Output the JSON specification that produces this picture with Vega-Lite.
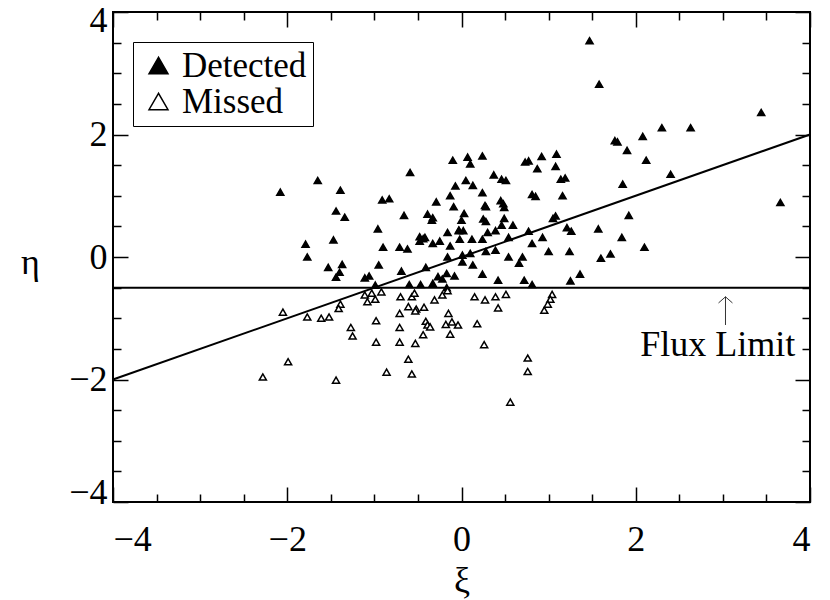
{
  "$schema": "https://vega.github.io/schema/vega-lite/v6.json",
  "autosize": {"type": "none"},
  "width": 697,
  "height": 490,
  "padding": {"left": 113, "top": 12, "right": 20, "bottom": 98},
  "background": "white",
  "config": {
    "view": {"stroke": "black", "strokeWidth": 2},
    "axis": {"domain": false, "grid": false, "tickColor": "black", "tickWidth": 1.5, "labelColor": "black", "titleColor": "black", "labelFont": "Liberation Serif", "titleFont": "Liberation Serif", "labelFontSize": 36, "titleFontSize": 36, "titleFontWeight": "normal"},
    "legend": {"labelFont": "Liberation Serif", "labelFontSize": 35, "labelColor": "black"}
  },
  "datasets": {
    "lines": [
      {"line": "fit", "xi": -4, "eta": -2},
      {"line": "fit", "xi": 4, "eta": 2},
      {"line": "limit", "xi": -4, "eta": -0.5},
      {"line": "limit", "xi": 4, "eta": -0.5}
    ],
    "points": [
      {"status": "Detected", "xi": -2.08, "eta": 1.06},
      {"status": "Detected", "xi": -1.65, "eta": 1.25},
      {"status": "Detected", "xi": -1.39, "eta": 1.09},
      {"status": "Detected", "xi": -1.44, "eta": 0.75},
      {"status": "Detected", "xi": -1.34, "eta": 0.65},
      {"status": "Detected", "xi": -0.59, "eta": 1.38},
      {"status": "Detected", "xi": -0.91, "eta": 0.93},
      {"status": "Detected", "xi": -0.83, "eta": 0.95},
      {"status": "Detected", "xi": -0.96, "eta": 0.46},
      {"status": "Detected", "xi": -1.79, "eta": 0.21},
      {"status": "Detected", "xi": -1.47, "eta": 0.28},
      {"status": "Detected", "xi": -0.9, "eta": 0.16},
      {"status": "Detected", "xi": -0.71, "eta": 0.16},
      {"status": "Detected", "xi": -0.62, "eta": 0.13},
      {"status": "Detected", "xi": -0.66, "eta": 0.68},
      {"status": "Detected", "xi": -0.48, "eta": 0.33},
      {"status": "Detected", "xi": -0.44, "eta": 0.3},
      {"status": "Detected", "xi": -0.39, "eta": 0.7},
      {"status": "Detected", "xi": -0.33, "eta": 0.64},
      {"status": "Detected", "xi": -0.34, "eta": 0.6},
      {"status": "Detected", "xi": -0.29, "eta": 0.9},
      {"status": "Detected", "xi": -0.13, "eta": 1.0},
      {"status": "Detected", "xi": -0.09, "eta": 0.82},
      {"status": "Detected", "xi": -0.1, "eta": 1.58},
      {"status": "Detected", "xi": -0.07, "eta": 1.16},
      {"status": "Detected", "xi": -0.16, "eta": 0.4},
      {"status": "Detected", "xi": -0.25, "eta": 0.26},
      {"status": "Detected", "xi": -0.33, "eta": 0.22},
      {"status": "Detected", "xi": -0.13, "eta": 0.18},
      {"status": "Detected", "xi": -0.03, "eta": 0.44},
      {"status": "Detected", "xi": -1.77, "eta": 0.0},
      {"status": "Detected", "xi": -0.16, "eta": 0.0},
      {"status": "Detected", "xi": 0.07, "eta": 1.63},
      {"status": "Detected", "xi": 0.1, "eta": 1.52},
      {"status": "Detected", "xi": 0.24, "eta": 1.65},
      {"status": "Detected", "xi": 0.73, "eta": 1.55},
      {"status": "Detected", "xi": 0.77, "eta": 1.57},
      {"status": "Detected", "xi": 0.87, "eta": 1.44},
      {"status": "Detected", "xi": 0.05, "eta": 1.25},
      {"status": "Detected", "xi": 0.13, "eta": 1.17},
      {"status": "Detected", "xi": 0.37, "eta": 1.34},
      {"status": "Detected", "xi": 0.46, "eta": 1.27},
      {"status": "Detected", "xi": 0.51, "eta": 1.25},
      {"status": "Detected", "xi": 0.24, "eta": 1.05},
      {"status": "Detected", "xi": 0.27, "eta": 0.84},
      {"status": "Detected", "xi": 0.28, "eta": 0.82},
      {"status": "Detected", "xi": 0.45, "eta": 0.92},
      {"status": "Detected", "xi": 0.48, "eta": 0.87},
      {"status": "Detected", "xi": 0.49, "eta": 0.81},
      {"status": "Detected", "xi": 0.81, "eta": 1.02},
      {"status": "Detected", "xi": 0.03, "eta": 0.71},
      {"status": "Detected", "xi": 0.0, "eta": 0.6},
      {"status": "Detected", "xi": 0.25, "eta": 0.62},
      {"status": "Detected", "xi": 0.28, "eta": 0.58},
      {"status": "Detected", "xi": 0.49, "eta": 0.63},
      {"status": "Detected", "xi": 0.46, "eta": 0.52},
      {"status": "Detected", "xi": 0.59, "eta": 0.52},
      {"status": "Detected", "xi": -0.03, "eta": 0.43},
      {"status": "Detected", "xi": 0.02, "eta": 0.43},
      {"status": "Detected", "xi": 0.3, "eta": 0.4},
      {"status": "Detected", "xi": 0.39, "eta": 0.43},
      {"status": "Detected", "xi": -0.42, "eta": 0.32},
      {"status": "Detected", "xi": -0.48, "eta": 0.26},
      {"status": "Detected", "xi": -0.02, "eta": 0.29},
      {"status": "Detected", "xi": 0.12, "eta": 0.29},
      {"status": "Detected", "xi": 0.24, "eta": 0.29},
      {"status": "Detected", "xi": 0.54, "eta": 0.32},
      {"status": "Detected", "xi": 0.77, "eta": 0.42},
      {"status": "Detected", "xi": 0.81, "eta": 0.22},
      {"status": "Detected", "xi": 0.01, "eta": 0.03},
      {"status": "Detected", "xi": 0.1, "eta": 0.06},
      {"status": "Detected", "xi": 0.28, "eta": 0.09},
      {"status": "Detected", "xi": 0.39, "eta": 0.11},
      {"status": "Detected", "xi": 0.54, "eta": 0.0},
      {"status": "Detected", "xi": 0.7, "eta": 0.0},
      {"status": "Detected", "xi": 1.76, "eta": 1.9},
      {"status": "Detected", "xi": 1.79, "eta": 1.88},
      {"status": "Detected", "xi": 1.9, "eta": 1.74},
      {"status": "Detected", "xi": 2.12, "eta": 1.58},
      {"status": "Detected", "xi": 0.92, "eta": 1.64},
      {"status": "Detected", "xi": 1.09, "eta": 1.68},
      {"status": "Detected", "xi": 1.08, "eta": 1.48},
      {"status": "Detected", "xi": 1.14, "eta": 1.27},
      {"status": "Detected", "xi": 1.19, "eta": 1.29},
      {"status": "Detected", "xi": 1.85, "eta": 1.19},
      {"status": "Detected", "xi": 2.4, "eta": 1.35},
      {"status": "Detected", "xi": 0.85, "eta": 0.99},
      {"status": "Detected", "xi": 1.16, "eta": 1.0},
      {"status": "Detected", "xi": 1.92, "eta": 0.68},
      {"status": "Detected", "xi": 1.05, "eta": 0.63},
      {"status": "Detected", "xi": 1.08, "eta": 0.67},
      {"status": "Detected", "xi": 1.21, "eta": 0.48},
      {"status": "Detected", "xi": 1.26, "eta": 0.42},
      {"status": "Detected", "xi": 0.93, "eta": 0.32},
      {"status": "Detected", "xi": 1.57, "eta": 0.46},
      {"status": "Detected", "xi": 1.84, "eta": 0.32},
      {"status": "Detected", "xi": 2.1, "eta": 0.16},
      {"status": "Detected", "xi": 1.0, "eta": 0.09},
      {"status": "Detected", "xi": 1.24, "eta": 0.09},
      {"status": "Detected", "xi": 1.71, "eta": 0.05},
      {"status": "Detected", "xi": 1.6, "eta": -0.02},
      {"status": "Detected", "xi": 1.47, "eta": 3.53},
      {"status": "Detected", "xi": 1.58, "eta": 2.82},
      {"status": "Detected", "xi": 3.44, "eta": 2.36},
      {"status": "Detected", "xi": 2.3, "eta": 2.11},
      {"status": "Detected", "xi": 2.63, "eta": 2.11},
      {"status": "Detected", "xi": 2.08, "eta": 1.97},
      {"status": "Detected", "xi": 3.66, "eta": 0.89},
      {"status": "Detected", "xi": -1.53, "eta": -0.17},
      {"status": "Detected", "xi": -1.37, "eta": -0.12},
      {"status": "Detected", "xi": -1.4, "eta": -0.25},
      {"status": "Detected", "xi": -1.44, "eta": -0.33},
      {"status": "Detected", "xi": -1.11, "eta": -0.34},
      {"status": "Detected", "xi": -1.06, "eta": -0.31},
      {"status": "Detected", "xi": -0.95, "eta": -0.13},
      {"status": "Detected", "xi": -0.99, "eta": -0.46},
      {"status": "Detected", "xi": -0.69, "eta": -0.23},
      {"status": "Detected", "xi": -0.41, "eta": -0.17},
      {"status": "Detected", "xi": 0.01, "eta": -0.08},
      {"status": "Detected", "xi": 0.13, "eta": -0.13},
      {"status": "Detected", "xi": 0.66, "eta": -0.1},
      {"status": "Detected", "xi": -0.27, "eta": -0.32},
      {"status": "Detected", "xi": -0.22, "eta": -0.36},
      {"status": "Detected", "xi": -0.17, "eta": -0.27},
      {"status": "Detected", "xi": -0.08, "eta": -0.31},
      {"status": "Detected", "xi": 0.24, "eta": -0.28},
      {"status": "Detected", "xi": 0.42, "eta": -0.38},
      {"status": "Detected", "xi": 0.72, "eta": -0.38},
      {"status": "Detected", "xi": 0.81, "eta": -0.45},
      {"status": "Detected", "xi": -0.6, "eta": -0.45},
      {"status": "Detected", "xi": -0.47, "eta": -0.45},
      {"status": "Detected", "xi": -0.33, "eta": -0.43},
      {"status": "Detected", "xi": -0.17, "eta": -0.5},
      {"status": "Detected", "xi": 1.25, "eta": -0.39},
      {"status": "Detected", "xi": 1.36, "eta": -0.28},
      {"status": "Missed", "xi": -2.05, "eta": -0.9},
      {"status": "Missed", "xi": -1.77, "eta": -0.98},
      {"status": "Missed", "xi": -1.61, "eta": -1.0},
      {"status": "Missed", "xi": -1.52, "eta": -0.98},
      {"status": "Missed", "xi": -1.39, "eta": -0.77},
      {"status": "Missed", "xi": -1.41, "eta": -0.84},
      {"status": "Missed", "xi": -1.11, "eta": -0.62},
      {"status": "Missed", "xi": -1.03, "eta": -0.59},
      {"status": "Missed", "xi": -1.08, "eta": -0.73},
      {"status": "Missed", "xi": -0.99, "eta": -0.69},
      {"status": "Missed", "xi": -0.92, "eta": -0.57},
      {"status": "Missed", "xi": -1.27, "eta": -1.15},
      {"status": "Missed", "xi": -1.25, "eta": -1.29},
      {"status": "Missed", "xi": -0.98, "eta": -1.04},
      {"status": "Missed", "xi": -0.98, "eta": -1.39},
      {"status": "Missed", "xi": -1.99, "eta": -1.71},
      {"status": "Missed", "xi": -2.28, "eta": -1.96},
      {"status": "Missed", "xi": -1.44, "eta": -2.01},
      {"status": "Missed", "xi": -0.86, "eta": -1.88},
      {"status": "Missed", "xi": -0.7, "eta": -0.65},
      {"status": "Missed", "xi": -0.57, "eta": -0.65},
      {"status": "Missed", "xi": -0.54, "eta": -0.59},
      {"status": "Missed", "xi": -0.61, "eta": -0.81},
      {"status": "Missed", "xi": -0.52, "eta": -0.85},
      {"status": "Missed", "xi": -0.53, "eta": -0.88},
      {"status": "Missed", "xi": -0.43, "eta": -0.82},
      {"status": "Missed", "xi": -0.71, "eta": -0.92},
      {"status": "Missed", "xi": -0.31, "eta": -0.7},
      {"status": "Missed", "xi": -0.22, "eta": -0.62},
      {"status": "Missed", "xi": -0.16, "eta": -0.55},
      {"status": "Missed", "xi": -0.41, "eta": -1.05},
      {"status": "Missed", "xi": -0.39, "eta": -1.11},
      {"status": "Missed", "xi": -0.36, "eta": -1.14},
      {"status": "Missed", "xi": -0.15, "eta": -0.92},
      {"status": "Missed", "xi": -0.18, "eta": -1.1},
      {"status": "Missed", "xi": -0.11, "eta": -1.06},
      {"status": "Missed", "xi": -0.04, "eta": -1.11},
      {"status": "Missed", "xi": -0.71, "eta": -1.15},
      {"status": "Missed", "xi": -0.44, "eta": -1.27},
      {"status": "Missed", "xi": -0.13, "eta": -1.26},
      {"status": "Missed", "xi": -0.71, "eta": -1.39},
      {"status": "Missed", "xi": -0.53, "eta": -1.41},
      {"status": "Missed", "xi": -0.61, "eta": -1.67},
      {"status": "Missed", "xi": -0.57, "eta": -1.91},
      {"status": "Missed", "xi": 0.15, "eta": -0.65},
      {"status": "Missed", "xi": 0.27, "eta": -0.7},
      {"status": "Missed", "xi": 0.39, "eta": -0.65},
      {"status": "Missed", "xi": 0.51, "eta": -0.61},
      {"status": "Missed", "xi": 0.42, "eta": -0.83},
      {"status": "Missed", "xi": 0.18, "eta": -1.09},
      {"status": "Missed", "xi": 0.26, "eta": -1.43},
      {"status": "Missed", "xi": 0.76, "eta": -1.65},
      {"status": "Missed", "xi": 0.76, "eta": -1.87},
      {"status": "Missed", "xi": 0.56, "eta": -2.37},
      {"status": "Missed", "xi": 1.04, "eta": -0.61},
      {"status": "Missed", "xi": 1.02, "eta": -0.69},
      {"status": "Missed", "xi": 0.99, "eta": -0.77},
      {"status": "Missed", "xi": 0.95, "eta": -0.87}
    ],
    "note": [{"xi": 2.94, "eta": -1.62, "label": "Flux Limit"}],
    "shaft": [{"xi": 3.03, "eta": -1.11, "xi2": 3.03, "eta2": -0.65}],
    "head": [
      {"xi": 3.03, "eta": -0.65, "xi2": 2.95, "eta2": -0.75},
      {"xi": 3.03, "eta": -0.65, "xi2": 3.11, "eta2": -0.75}
    ]
  },
  "resolve": {"axis": {"x": "independent", "y": "independent"}},
  "layer": [
    {
      "data": {"name": "lines"},
      "mark": {"type": "line", "color": "black", "strokeWidth": 2},
      "encoding": {
        "x": {"field": "xi", "type": "quantitative", "scale": {"domain": [-4, 4], "nice": false},
          "axis": {"orient": "bottom", "values": [-4, -2, 0, 2, 4], "ticks": false, "labelPadding": 20, "title": "ξ", "titlePadding": 6}},
        "y": {"field": "eta", "type": "quantitative", "scale": {"domain": [-4, 4], "nice": false},
          "axis": {"orient": "left", "values": [-4, -2, 0, 2, 4], "ticks": false, "labelPadding": 6, "labelFlush": true, "labelFlushOffset": 9, "title": "η", "titleAngle": 0, "titleAlign": "center", "titleBaseline": "middle", "titleX": -83, "titleY": 250}},
        "detail": {"field": "line"}
      }
    },
    {
      "data": {"name": "points"},
      "mark": {"type": "point", "shape": "triangle-up", "size": 50, "stroke": "black", "strokeWidth": 1.5, "opacity": 1},
      "encoding": {
        "x": {"field": "xi", "type": "quantitative", "scale": {"domain": [-4, 4], "nice": false},
          "axis": {"orient": "bottom", "values": [-4, -2, 0, 2, 4], "tickSize": -15, "labels": false, "title": null}},
        "y": {"field": "eta", "type": "quantitative", "scale": {"domain": [-4, 4], "nice": false},
          "axis": {"orient": "left", "values": [-4, -2, 0, 2, 4], "tickSize": -15, "labels": false, "title": null}},
        "fill": {"field": "status", "type": "nominal",
          "scale": {"domain": ["Detected", "Missed"], "range": ["black", "white"]},
          "legend": {"title": null, "orient": "none", "legendX": 20, "legendY": 30, "strokeColor": "black", "padding": 6, "symbolOffset": 2, "symbolType": "triangle-up", "symbolSize": 360, "symbolStrokeColor": "black", "symbolStrokeWidth": 1.5, "rowPadding": -10, "labelOffset": 6}}
      }
    },
    {
      "data": {"name": "note"},
      "mark": {"type": "text", "font": "Liberation Serif", "fontSize": 36, "align": "center", "baseline": "alphabetic", "color": "black"},
      "encoding": {
        "x": {"field": "xi", "type": "quantitative", "scale": {"domain": [-4, 4], "nice": false},
          "axis": {"orient": "bottom", "values": [-3.5, -3, -2.5, -1.5, -1, -0.5, 0.5, 1, 1.5, 2.5, 3, 3.5], "tickSize": -8, "labels": false, "title": null}},
        "y": {"field": "eta", "type": "quantitative", "scale": {"domain": [-4, 4], "nice": false},
          "axis": {"orient": "left", "values": [-3.5, -3, -2.5, -1.5, -1, -0.5, 0.5, 1, 1.5, 2.5, 3, 3.5], "tickSize": -8, "labels": false, "title": null}},
        "text": {"field": "label"}
      }
    },
    {
      "data": {"name": "shaft"},
      "mark": {"type": "rule", "color": "black", "strokeWidth": 0.8},
      "encoding": {
        "x": {"field": "xi", "type": "quantitative", "scale": {"domain": [-4, 4], "nice": false},
          "axis": {"orient": "top", "values": [-4, -2, 0, 2, 4], "tickSize": -15, "labels": false, "title": null}},
        "y": {"field": "eta", "type": "quantitative", "scale": {"domain": [-4, 4], "nice": false},
          "axis": {"orient": "right", "values": [-4, -2, 0, 2, 4], "tickSize": -15, "labels": false, "title": null}},
        "x2": {"field": "xi2"},
        "y2": {"field": "eta2"}
      }
    },
    {
      "data": {"name": "head"},
      "mark": {"type": "rule", "color": "black", "strokeWidth": 0.8},
      "encoding": {
        "x": {"field": "xi", "type": "quantitative", "scale": {"domain": [-4, 4], "nice": false},
          "axis": {"orient": "top", "values": [-3.5, -3, -2.5, -1.5, -1, -0.5, 0.5, 1, 1.5, 2.5, 3, 3.5], "tickSize": -8, "labels": false, "title": null}},
        "y": {"field": "eta", "type": "quantitative", "scale": {"domain": [-4, 4], "nice": false},
          "axis": {"orient": "right", "values": [-3.5, -3, -2.5, -1.5, -1, -0.5, 0.5, 1, 1.5, 2.5, 3, 3.5], "tickSize": -8, "labels": false, "title": null}},
        "x2": {"field": "xi2"},
        "y2": {"field": "eta2"}
      }
    }
  ]
}
